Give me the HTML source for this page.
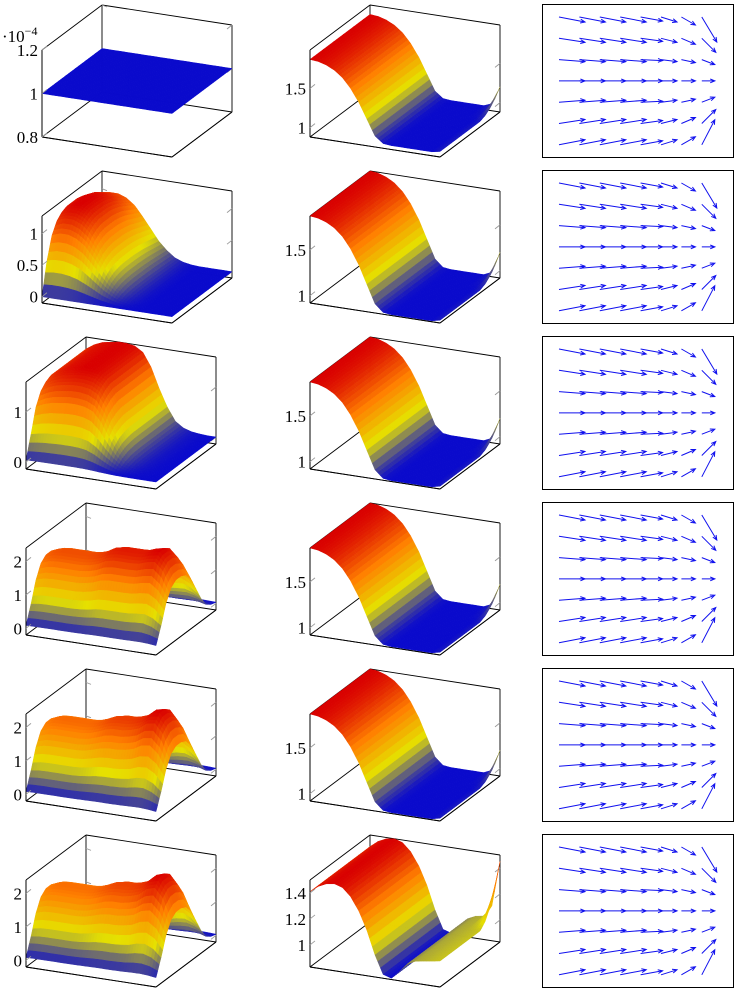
<!DOCTYPE html>
<html><head><meta charset="utf-8"><style>
html,body{margin:0;padding:0;background:#fff;}
svg{display:block;}
text{font-family:"Liberation Serif",serif;font-size:17px;fill:#000;}
</style></head><body>
<svg id="fig" width="737" height="992" viewBox="0 0 737 992" xmlns="http://www.w3.org/2000/svg"></svg>
<script>
// ---- data ----
const rowTops = [0,166,332,498,664,830];
// column 0 surfaces
const c0PxR0 = [1,1,1,1,1,1,1,1,1,1,1,1,1,1,1,1,1];
const c0PyR0 = [1,1,1,1,1,1,1,1,1,1,1,1,1];
const c0PxR1 = [1.14,1.2,1.2,1.14,1.02,0.82,0.6,0.38,0.22,0.1,0.04,0.01,0,0,0,0,0];
const c0PyR1 = [0,0.45,0.75,0.9,0.97,1,1,1,0.98,0.95,0.9,0.85,0.8];
const c0PxR2 = [1.36,1.47,1.54,1.57,1.6,1.6,1.57,1.47,1.2,0.8,0.45,0.19,0.08,0.03,0.01,0,0];
const c0PyR2 = [0.03,0.35,0.7,0.88,0.96,1,1,1,1,1,1,1,1];
const c0PxR3 = [1.75,1.85,1.88,1.88,1.88,1.88,1.92,2.0,2.14,2.19,2.19,2.19,2.21,2.3,2.35,2.1,1.6];
const c0PxR4 = [1.7,1.8,1.82,1.82,1.82,1.82,1.86,1.95,2.06,2.11,2.11,2.16,2.25,2.45,2.5,2.2,1.6];
const c0PxR5 = [1.7,1.8,1.82,1.82,1.82,1.82,1.86,1.95,2.06,2.11,2.11,2.16,2.25,2.47,2.55,2.25,1.6];
const c0PyWall = [0.05,0.35,0.7,0.92,1,1,0.95,0.8,0.55,0.3,0.12,0.05,0.02];
// column 1 surfaces
const c1Px = [1.87,1.86,1.83,1.78,1.7,1.58,1.42,1.22,1.02,0.94,0.93,0.93,0.93,0.93,0.93,0.93,0.95];
const c1Py = [1,1,1,1,1,1,1,1,1,1,1,1,1];
const c1Qx = [0,0,0,0,0,0,0,0,0,0,0,0,0,0,0,0.04,0.25];
const c1Qy = [0,0,0,0,0,0,0,0,0,0.1,0.3,0.6,1];
const c1PxR5 = [1.41,1.46,1.49,1.5,1.48,1.42,1.32,1.18,1.0,0.86,0.84,0.9,0.97,1.0,1.01,1.02,1.03];
const c1QxR5 = [0,0,0,0,0,0,0,0,0,0,0,0,0,0,0,0.08,0.42];
// axis ranges and ticks
const zRanges = [[0.8,1.2],[-0.1,1.28],[-0.14,1.6],[-0.2,2.4],[-0.2,2.4],[-0.2,2.4]];
const zTicks = [[0.8,1,1.2],[0,0.5,1],[0,1],[0,1,2],[0,1,2],[0,1,2]];
const c1Ranges = [[0.88,1.99],[0.92,1.87],[0.92,1.87],[0.92,1.87],[0.92,1.87],[0.83,1.5]];
const c1Ticks = [[1,1.5],[1,1.5],[1,1.5],[1,1.5],[1,1.5],[1,1.2,1.4]];
// quiver vectors (7 rows x 8 cols)
const quivU = [
 [26,26,26,26,22,16,14,15],[26,26,26,26,22,16,14,14],[26,26,26,26,22,16,14,13],
 [26,26,26,26,22,16,14,13],[26,26,26,26,22,16,14,13],[26,26,26,26,22,16,14,14],[26,26,26,26,22,16,14,13]];
const quivV = [
 [5,5,5,5,4,5,8,25],[4,4,4,4,3,4,6,14],[2,2,2,2,1,2,3,5],
 [0,0,0,0,0,0,0,0],[-2,-2,-2,-2,-1,-2,-3,-5],[-4,-4,-4,-4,-3,-4,-6,-14],[-5,-5,-5,-5,-4,-5,-8,-25]];

const NS="http://www.w3.org/2000/svg";
const svg=document.getElementById('fig');
function mk(tag,attrs,parent){const e=document.createElementNS(NS,tag);for(const k in attrs)e.setAttribute(k,attrs[k]);(parent||svg).appendChild(e);return e;}

function hot(t){
  t=Math.max(0,Math.min(1,t));let r,g,b;
  if(t<1/3){const s=t*3;r=0.04+0.86*s;g=0.04+0.84*s;b=0.8*(1-s);}
  else if(t<2/3){const s=t*3-1;r=0.9+0.1*s;g=0.88-0.38*s;b=0;}
  else{const s=t*3-2;r=1-0.15*s;g=0.5*(1-s);b=0;}
  return `rgb(${Math.round(r*255)},${Math.round(g*255)},${Math.round(b*255)})`;
}
function sample(arr,u){const f=u*(arr.length-1);const i=Math.min(arr.length-2,Math.floor(f));const t=f-i;return arr[i]*(1-t)+arr[i+1]*t;}

function panel3d(L,R,range,ticks,Px,Py,Qx,Qy,name,sci){
  const g=mk('g',{});
  
  
  const zr=range;
  const P=(x,y,z)=>{const zn=(z-zr[0])/(zr[1]-zr[0]);return [L+130*x+60*y, R+137+20*x-45*y-87*zn];};
  const ln=(a,b,c)=>mk('line',{x1:a[0],y1:a[1],x2:b[0],y2:b[1],stroke:c||'#000','stroke-width':0.9},g);
  const z0=zr[0],z1=zr[1];
  [[[0,0,z0],[1,0,z0]],[[1,0,z0],[1,1,z0]],[[1,1,z0],[0,1,z0]],[[0,1,z0],[0,0,z0]],
   [[0,1,z0],[0,1,z1]],[[1,1,z0],[1,1,z1]],[[0,1,z1],[1,1,z1]],[[0,0,z1],[0,1,z1]],[[0,0,z0],[0,0,z1]]]
   .forEach(s=>ln(P(...s[0]),P(...s[1])));
  ticks.forEach(t=>{
    const a=P(0,1,t);ln(a,[a[0]+5,a[1]+2],'#999');
    const b=P(1,1,t);ln(b,[b[0]-5,b[1]+4],'#999');
  });
  const NX=(Px.length-1)*3+1, NY=(Py.length-1)*3+1;
  const Z=(u,v)=>sample(Px,u)*sample(Py,v)+(Qx?sample(Qx,u)*sample(Qy,v):0);
  let mn=1e9,mx=-1e9;
  for(let i=0;i<NX;i++)for(let j=0;j<NY;j++){const z=Z(i/(NX-1),j/(NY-1));mn=Math.min(mn,z);mx=Math.max(mx,z);}
  const quads=[];
  for(let i=0;i<NX-1;i++)for(let j=0;j<NY-1;j++){
    const xs=[i/(NX-1),(i+1)/(NX-1)],ys=[j/(NY-1),(j+1)/(NY-1)];
    const zz=[Z(xs[0],ys[0]),Z(xs[1],ys[0]),Z(xs[1],ys[1]),Z(xs[0],ys[1])];
    quads.push({key:(ys[0]+ys[1])/2-(xs[0]+xs[1])/2,pts:[P(xs[0],ys[0],zz[0]),P(xs[1],ys[0],zz[1]),P(xs[1],ys[1],zz[2]),P(xs[0],ys[1],zz[3])],z:(zz[0]+zz[1]+zz[2]+zz[3])/4});
  }
  quads.sort((a,b)=>b.key-a.key);
  const sg=mk('g',{},g);
  
  
  quads.forEach(q=>{
    const c=(mx-mn)<1e-9?hot(0):hot((q.z-mn)/(mx-mn));
    mk('polygon',{points:q.pts.map(p=>p[0].toFixed(1)+','+p[1].toFixed(1)).join(' '),fill:c,stroke:c,'stroke-width':0.5,'stroke-linejoin':'round'},sg);
  });
  ln(P(0,0,z0),P(0,0,z1));ln(P(0,0,z0),P(1,0,z0));ln(P(1,0,z0),P(1,1,z0));
  ticks.forEach(t=>{
    const p=P(0,0,t);
    ln(p,[p[0]+5,p[1]-4],'#999');
    const tx=mk('text',{x:L-4,y:p[1]+6,'text-anchor':'end'},g);
    tx.textContent=String(t);
    
    
  });
  if(sci){
    const tx=mk('text',{x:2,y:R+42},g);
    tx.innerHTML='·10<tspan dy="-7" font-size="12">−4</tspan>';
    
    
  }
}

function quiver(R,name){
  const g=mk('g',{});
  
  
  const box=mk('rect',{x:542.5,y:R+4.5,width:191,height:153,fill:'none',stroke:'#000','stroke-width':1},g);
  
  
  for(let r=0;r<quivU.length;r++)for(let c=0;c<quivU[r].length;c++){
    const x0=559+20.4*c,y0=R+17+21.3*r,u=quivU[r][c],v=quivV[r][c];
    const x1=x0+u,y1=y0+v,a=Math.atan2(v,u),h=5;
    const p=mk('path',{d:`M${x0.toFixed(1)},${y0.toFixed(1)}L${x1.toFixed(1)},${y1.toFixed(1)}M${(x1-h*Math.cos(a-0.4)).toFixed(1)},${(y1-h*Math.sin(a-0.4)).toFixed(1)}L${x1.toFixed(1)},${y1.toFixed(1)}L${(x1-h*Math.cos(a+0.4)).toFixed(1)},${(y1-h*Math.sin(a+0.4)).toFixed(1)}`,stroke:'#1010ee','stroke-width':1,fill:'none'},g);
    
    
  }
}

const c0Px=[c0PxR0,c0PxR1,c0PxR2,c0PxR3,c0PxR4,c0PxR5];
const c0Py=[c0PyR0,c0PyR1,c0PyR2,c0PyWall,c0PyWall,c0PyWall];
const c0L=[42,42,26,26,26,26];
for(let r=0;r<6;r++){
  const R=rowTops[r];
  panel3d(c0L[r],R,zRanges[r],zTicks[r],c0Px[r],c0Py[r],null,null,'surface-plot-left-row'+(r+1),r===0);
  if(r<5) panel3d(310,R,c1Ranges[r],c1Ticks[r],c1Px,c1Py,c1Qx,c1Qy,'surface-plot-middle-row'+(r+1),false);
  else panel3d(310,R,c1Ranges[r],c1Ticks[r],c1PxR5,c1Py,c1QxR5,c1Qy,'surface-plot-middle-row'+(r+1),false);
  quiver(R,'quiver-plot-row'+(r+1));
}
</script>
</body></html>
